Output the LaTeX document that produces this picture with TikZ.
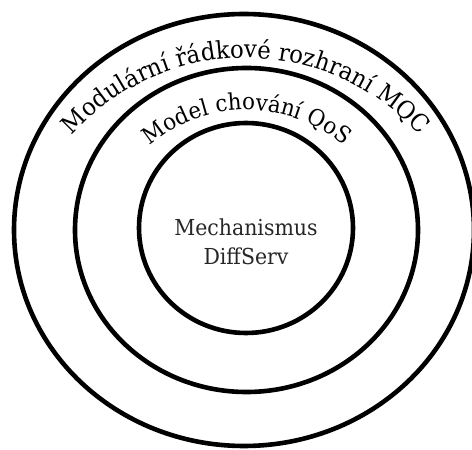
\documentclass[tikz,border=0pt]{standalone}
\usepackage{fontspec}
\setmainfont{DejaVu Serif}[FakeStretch=0.93]
\usetikzlibrary{shapes.geometric,decorations.text}
\begin{document}
\begin{tikzpicture}[x=1pt,y=1pt,
  ring/.style={draw=black, line width=4.6pt, ellipse, inner sep=0pt},
  arctext/.style={decorate, decoration={text along path, text align=center, text={#1}}}]
\useasboundingbox (0,0) rectangle (472,450);
\node[ring, minimum width=460pt, minimum height=432pt] (outer) at (244,220) {};
\node[ring, minimum width=343pt, minimum height=324pt] (middle) at (246.5,220) {};
\node[ring, minimum width=214pt, minimum height=210pt] (inner) at (246,222) {};
\node[align=center, font=\fontsize{22}{29}\selectfont, text=black!85] (mech) at (246,208) {Mechanismus\\DiffServ};
\coordinate (oc) at (246,158);
\coordinate (mc) at (247,190);
\path[arctext={|\fontsize{24.5}{28}\selectfont|Modulární řádkové rozhraní MQC}] (oc) ++(170:234) arc (170:10:234);
\path[arctext={|\fontsize{23}{26}\selectfont|Model chování QoS}] (mc) ++(170:150) arc (170:10:150);
\end{tikzpicture}
\end{document}
